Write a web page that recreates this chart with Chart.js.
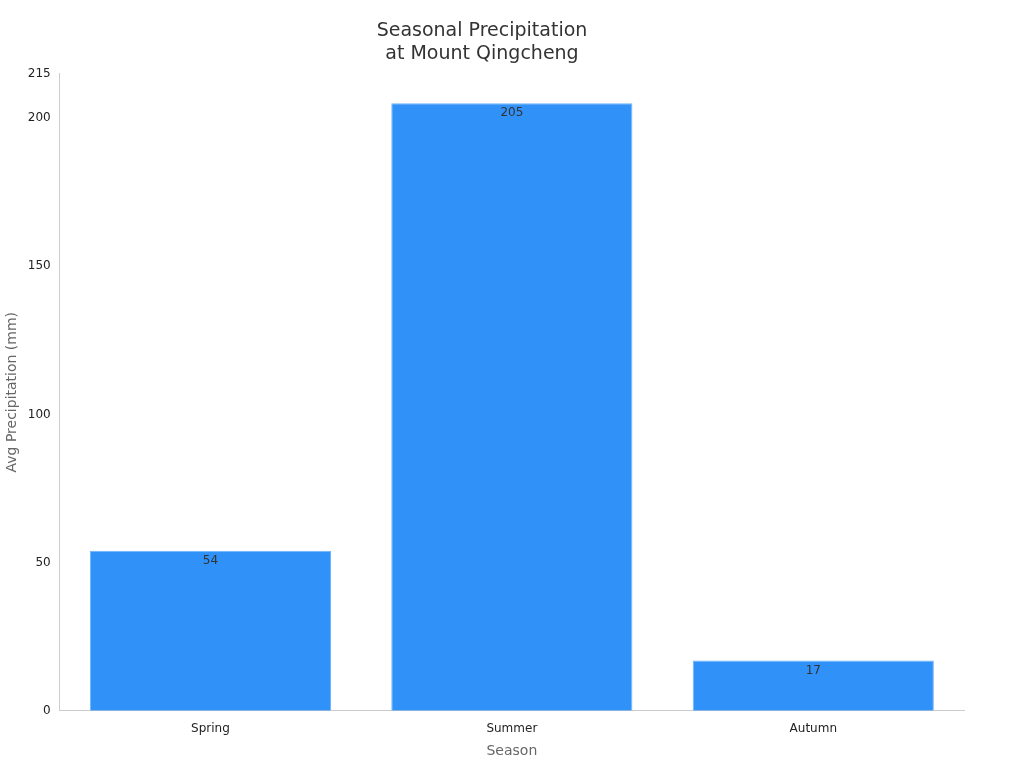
<!DOCTYPE html>
<html>
<head>
<meta charset="utf-8">
<script src="https://cdn.jsdelivr.net/npm/chart.js@4"></script>
<style>
  html, body { margin: 0; padding: 0; background: #fff; }
  #wrap { width: 1024px; height: 768px; }
</style>
</head>
<body>
<div id="wrap"><canvas id="chart"></canvas></div>
<script>
var seasons = ['Spring', 'Summer', 'Autumn'];
var precipitation = [54, 205, 17];

Chart.defaults.font.family = 'DejaVu Sans';

// value labels just inside the top of each bar
var barLabels = {
    id: 'barLabels',
    afterDatasetsDraw: function (chart) {
        var ctx = chart.ctx;
        var meta = chart.getDatasetMeta(0);
        ctx.save();
        ctx.font = '12px DejaVu Sans';
        ctx.fillStyle = '#333';
        ctx.textAlign = 'center';
        ctx.textBaseline = 'top';
        meta.data.forEach(function (bar, i) {
            ctx.fillText(precipitation[i], bar.x, bar.y + 4);
        });
        ctx.restore();
    }
};

new Chart(document.getElementById('chart'), {
    type: 'bar',
    data: {
        labels: seasons,
        datasets: [{
            label: 'Avg Precipitation (mm)',
            data: precipitation,
            backgroundColor: '#3092f9',
            borderColor: '#6fb3fb',
            borderWidth: 1,
            barPercentage: 0.8,
            categoryPercentage: 1.0
        }]
    },
    options: {
        responsive: true,
        maintainAspectRatio: false,
        animation: false,
        layout: { padding: { left: 0, right: 60, top: 10, bottom: 4 } },
        plugins: {
            legend: { display: false },
            title: {
                display: true,
                text: ['Seasonal Precipitation', 'at Mount Qingcheng'],
                color: '#333',
                font: { size: 19, weight: 'normal' },
                padding: { top: 10, bottom: 8 }
            }
        },
        scales: {
            x: {
                grid: { display: false, drawTicks: true },
                border: { color: '#ccc' },
                ticks: { color: '#222', font: { size: 12 } },
                title: { display: true, text: 'Season', color: '#666', font: { size: 14 } }
            },
            y: {
                min: 0,
                max: 215,
                grid: { display: false, drawTicks: true, tickLength: 6 },
                border: { color: '#ccc' },
                ticks: { stepSize: 50, color: '#222', font: { size: 12 } },
                title: { display: true, text: 'Avg Precipitation (mm)', color: '#666', font: { size: 14 } }
            }
        }
    },
    plugins: [barLabels]
});
</script>
</body>
</html>
